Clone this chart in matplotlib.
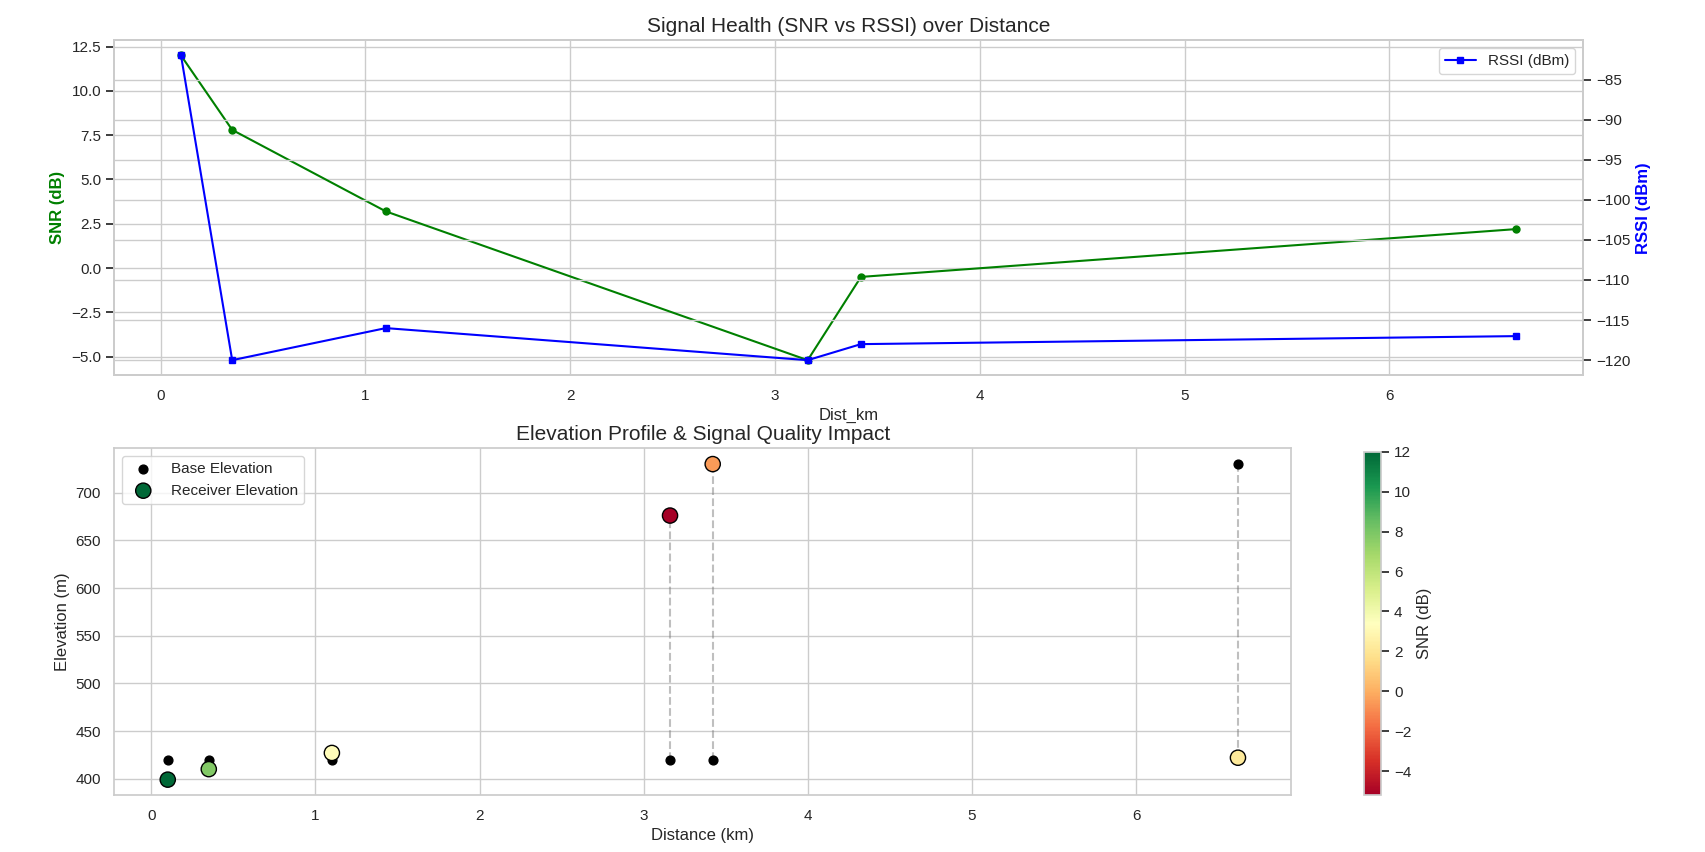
import matplotlib
matplotlib.use("Agg")
import matplotlib.pyplot as plt
import seaborn as sns
import numpy as np

sns.set_theme(style="whitegrid")
plt.rcParams['font.family'] = ['Liberation Sans', 'DejaVu Sans']

dist_km = [0.10, 0.35, 1.10, 3.16, 3.42, 6.62]
snr = [12.0, 7.8, 3.2, -5.2, -0.5, 2.2]
rssi = [-82, -120, -116, -120, -118, -117]
base_elev = [420, 420, 420, 420, 420, 730]
recv_elev = [399, 410, 427, 676, 730, 422]

fig = plt.figure(figsize=(17.06, 8.52), dpi=100)
W, H = 1568, 783

def rect(x0, y0, x1, y1):
    return [x0 / W, 1 - y1 / H, (x1 - x0) / W, (y1 - y0) / H]

ax1 = fig.add_axes(rect(105, 37, 1455, 345))
ax3 = fig.add_axes(rect(105, 412, 1187, 731))
cax = fig.add_axes(rect(1254, 415, 1269, 731))

ax1.plot(dist_km, snr, color='green', marker='o', markersize=5, label='SNR (dB)')
ax1.set_ylabel('SNR (dB)', color='green', fontweight='bold')
ax1.set_xlabel('Dist_km')
ax2 = ax1.twinx()
ax2.plot(dist_km, rssi, color='blue', marker='s', markersize=5, label='RSSI (dBm)')
ax2.set_ylabel('RSSI (dBm)', color='blue', fontweight='bold')
ax2.legend(loc='upper right')
ax1.set_title('Signal Health (SNR vs RSSI) over Distance', fontsize=15)

for d, b, r in zip(dist_km, base_elev, recv_elev):
    if abs(b - r) > 50:
        ax3.plot([d, d], [b, r], color='gray', linestyle='--', alpha=0.5)
ax3.scatter(dist_km, base_elev, color='black', s=40, label='Base Elevation', zorder=3)
sc = ax3.scatter(dist_km, recv_elev, c=snr, cmap='RdYlGn', s=120, edgecolors='black',
                 label='Receiver Elevation', zorder=4)
cb = fig.colorbar(sc, cax=cax)
cb.set_label('SNR (dB)')
ax3.set_xlabel('Distance (km)')
ax3.set_ylabel('Elevation (m)')
ax3.set_title('Elevation Profile & Signal Quality Impact', fontsize=15)
ax3.legend(loc='upper left')

plt.savefig('out.png')
